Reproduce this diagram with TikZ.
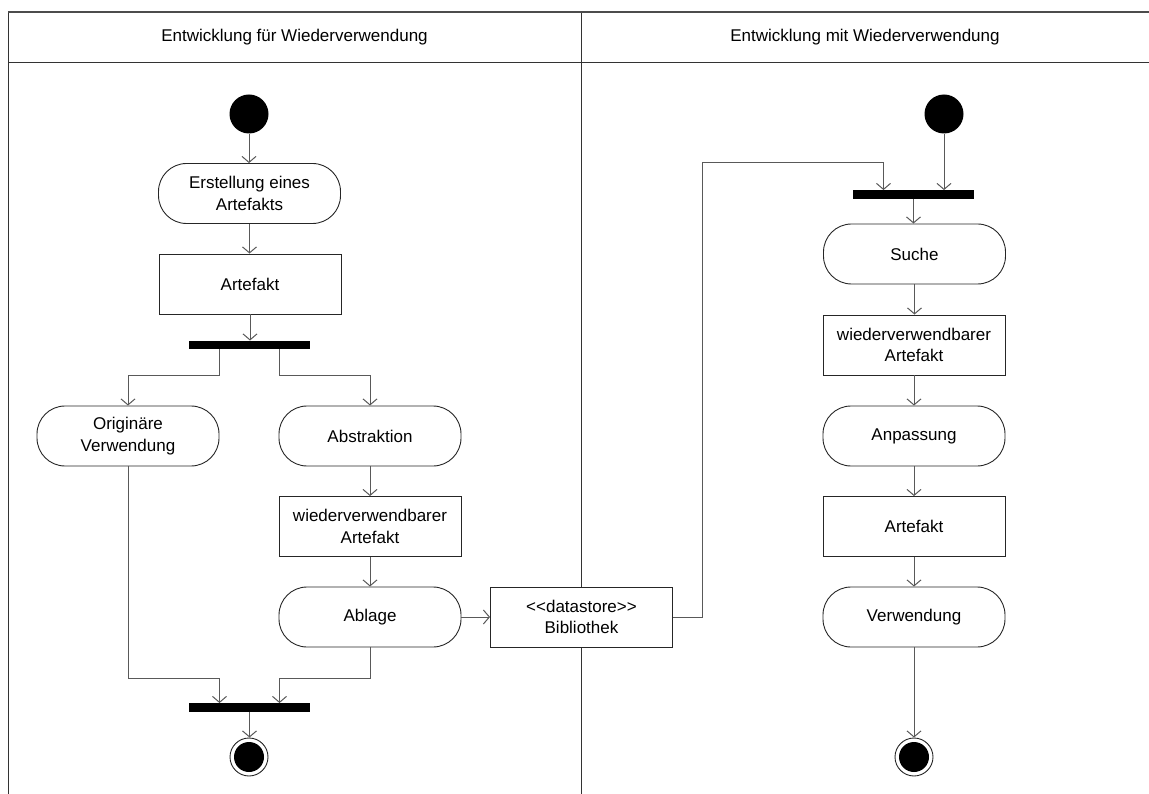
\documentclass[tikz,border=0pt]{standalone}
\usepackage{fontspec}
\setmainfont{Liberation Sans}
\usetikzlibrary{arrows.meta}
\begin{document}
\begin{tikzpicture}[x=1pt,y=-1pt,
  every node/.style={font=\fontsize{17}{21.5}\selectfont, text=black},
  topline/.style={draw=black!70, line width=1.6pt},
  laneline/.style={draw=black!80, line width=0.9pt},
  action/.style={draw=black!85, fill=white, line width=0.9pt, rounded corners=28pt,
    minimum width=182pt, minimum height=60pt, inner sep=0pt, align=center},
  objbox/.style={draw=black!85, fill=white, line width=0.9pt,
    minimum width=182pt, minimum height=60pt, inner sep=0pt, align=center},
  syncbar/.style={fill=black, minimum width=121pt, minimum height=8.5pt, inner sep=0pt},
  initial/.style={circle, fill=black, minimum size=39pt, inner sep=0pt},
  final/.style={circle, draw=black!85, line width=0.9pt, fill=white, minimum size=38pt,
    inner sep=0pt, path picture={\fill[black] (path picture bounding box.center) circle (15pt);}},
  flow/.style={draw=black!65, line width=1pt, -{Straight Barb[length=6pt,width=14pt]}}
]
\useasboundingbox (0,0) rectangle (1149,794);

% swimlane frame
\draw[laneline] (8,62) -- (1149,62);
\draw[laneline] (581,12) -- (581,794);
\draw[laneline] (8,794) -- (8,12);
\draw[topline] (8,12) -- (1149,12);

\node (h1) at (294.5,37) {Entwicklung für Wiederverwendung};
\node (h2) at (865,37) {Entwicklung mit Wiederverwendung};

% left lane
\node[initial] (s1) at (249,114) {};
\node[action] (erst) at (249.5,193.5) {Erstellung eines\\Artefakts};
\node[objbox] (art1) at (250,284) {Artefakt};
\node[syncbar] (f1) at (249,345) {};
\node[action] (orig) at (128,436) {Originäre\\Verwendung};
\node[action] (abst) at (370,436) {Abstraktion};
\node[objbox] (wv1) at (370,526.5) {wiederverwendbarer\\Artefakt};
\node[action] (abl) at (370,617) {Ablage};
\node[objbox] (bib) at (581.5,617) {<{}<datastore>{}>\\Bibliothek};
\node[syncbar] (j1) at (249.5,707.5) {};
\node[final] (e1) at (249,757) {};

% right lane
\node[initial] (s2) at (944,114) {};
\node[syncbar] (f2) at (913.5,194.5) {};
\node[action] (suche) at (914.5,254) {Suche};
\node[objbox] (wv2) at (914,345) {wiederverwendbarer\\Artefakt};
\node[action] (anp) at (914,436) {Anpassung};
\node[objbox] (art2) at (914,526.5) {Artefakt};
\node[action] (verw) at (914,617) {Verwendung};
\node[final] (e2) at (914,757) {};

\coordinate (lp) at (702,163);
\coordinate (jl) at (0,678);

% left lane flows
\draw[flow] (s1.south) -- (s1.south |- erst.north);
\draw[flow] (erst.south) -- (erst.south |- art1.north);
\draw[flow] (art1.south) -- (art1.south |- f1.north);
\draw[flow] ([xshift=-30pt]f1.south) -- ++(0,26) -| (orig.north);
\draw[flow] ([xshift=30pt]f1.south) -- ++(0,26) -| (abst.north);
\draw[flow] (abst) -- (wv1);
\draw[flow] (wv1) -- (abl);
\draw[flow] (abl) -- (bib);
\draw[flow] (orig.south) -- (orig.south |- jl) -| ([xshift=-30pt]j1.north);
\draw[flow] (abl.south) -- (abl.south |- jl) -| ([xshift=30pt]j1.north);
\draw[flow] (j1.south) -- (j1.south |- e1.north);

% right lane flows
\draw[flow] (bib.east) -| (lp) -| ([xshift=-30pt]f2.north);
\draw[flow] (s2.south) -- (s2.south |- f2.north);
\draw[flow] (f2.south) -- (f2.south |- suche.north);
\draw[flow] (suche.south) -- (suche.south |- wv2.north);
\draw[flow] (wv2) -- (anp);
\draw[flow] (anp) -- (art2);
\draw[flow] (art2) -- (verw);
\draw[flow] (verw) -- (e2);
\end{tikzpicture}
\end{document}
